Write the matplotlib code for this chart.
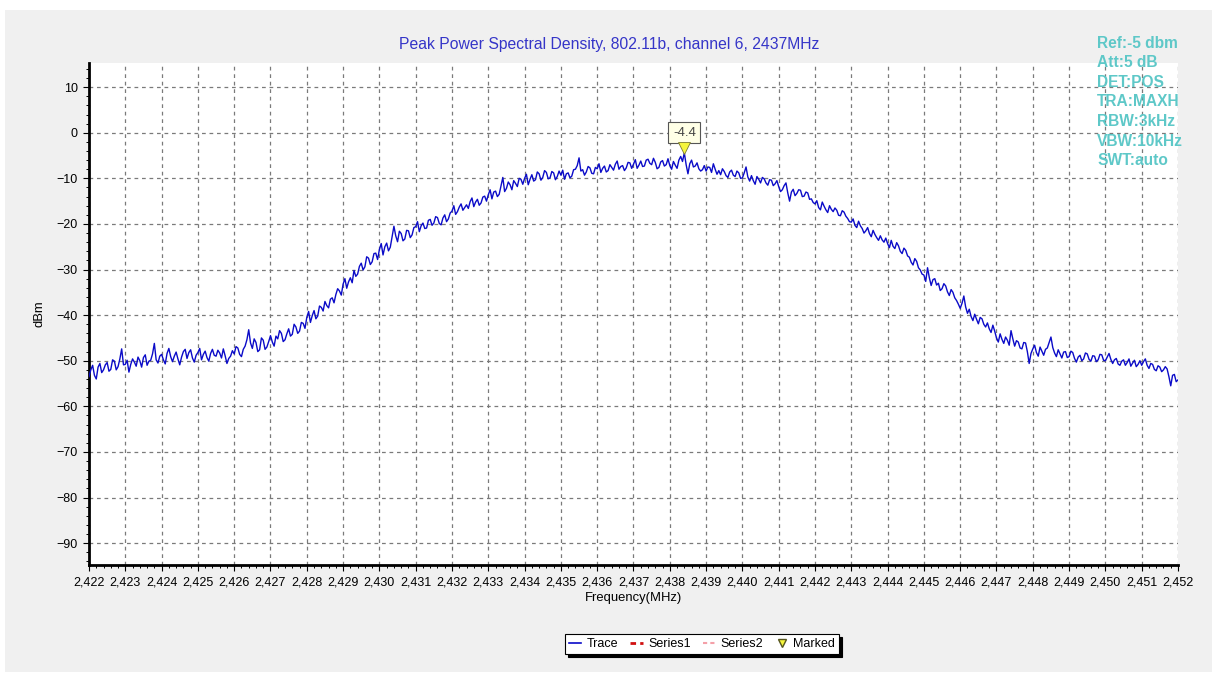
import numpy as np
import matplotlib.pyplot as plt
import matplotlib.transforms as mtransforms
from matplotlib.lines import Line2D
from matplotlib.patches import Rectangle

plt.rcParams["font.family"] = ["Liberation Sans", "DejaVu Sans"]

# trace sampled every 0.05 MHz, one row per MHz (2422.00 .. 2451.95) plus the end point
freq_start = 2422.0
freq_stop = 2452.0
power_rows = [
    [-53.5, -52.0, -51.0, -53.2, -54.0, -51.4, -50.6, -52.6, -52.0, -50.9,
     -50.4, -52.3, -51.9, -49.8, -50.1, -52.0, -51.3, -49.6, -47.4, -50.9],  # 2422
    [-50.8, -49.9, -52.5, -50.8, -49.6, -50.3, -51.2, -49.2, -50.0, -51.4,
     -49.3, -48.7, -51.0, -50.1, -49.9, -48.5, -46.2, -49.8, -50.5, -49.0],  # 2423
    [-48.6, -49.8, -50.7, -48.4, -47.3, -49.1, -50.2, -49.0, -48.1, -49.6,
     -50.9, -49.2, -48.0, -47.5, -49.5, -48.2, -47.6, -49.4, -50.3, -48.8],  # 2424
    [-48.2, -47.3, -49.8, -48.6, -47.9, -49.3, -50.1, -48.4, -47.5, -48.8,
     -49.0, -47.7, -48.3, -49.4, -47.4, -48.9, -50.6, -49.5, -49.0, -47.8],  # 2425
    [-48.5, -46.9, -47.2, -48.6, -49.1, -47.5, -46.8, -45.4, -43.2, -46.1,
     -47.3, -45.2, -46.0, -48.0, -47.6, -45.0, -45.5, -47.5, -47.0, -45.8],  # 2426
    [-44.5, -45.9, -46.8, -44.6, -45.2, -43.4, -44.0, -45.8, -45.4, -44.1,
     -43.0, -44.6, -44.2, -42.0, -42.6, -44.0, -43.5, -41.6, -41.8, -42.9],  # 2427
    [-40.5, -39.2, -41.6, -40.1, -39.0, -40.8, -40.2, -38.0, -38.3, -39.1,
     -37.0, -37.9, -38.4, -36.5, -36.2, -37.3, -35.5, -34.2, -34.7, -35.6],  # 2428
    [-33.2, -32.0, -34.1, -32.7, -31.8, -32.9, -30.2, -31.5, -31.0, -29.3,
     -28.6, -30.1, -29.4, -27.2, -27.5, -28.9, -28.3, -26.5, -26.4, -27.8],  # 2429
    [-25.6, -24.3, -26.8, -25.0, -24.2, -25.9, -25.1, -22.8, -20.5, -22.6,
     -23.9, -21.6, -22.1, -23.7, -23.3, -21.4, -21.5, -23.0, -22.4, -20.8],  # 2430
    [-20.6, -19.5, -21.7, -20.4, -19.8, -21.0, -20.9, -19.2, -19.0, -20.3,
     -19.8, -18.4, -18.6, -19.9, -20.2, -18.7, -18.0, -19.5, -18.9, -17.6],  # 2431
    [-17.2, -16.0, -17.9, -17.3, -16.3, -15.6, -17.0, -16.4, -15.8, -16.6,
     -15.1, -14.3, -16.2, -15.2, -14.6, -15.9, -15.4, -14.1, -13.9, -15.0],  # 2432
    [-13.6, -12.5, -14.5, -13.0, -12.8, -14.0, -13.5, -11.6, -9.8, -12.9,
     -12.2, -10.8, -11.4, -12.5, -10.5, -11.1, -11.8, -10.0, -10.2, -11.3],  # 2433
    [-10.0, -9.1, -11.4, -10.2, -9.2, -10.6, -10.3, -8.6, -9.0, -10.4,
     -9.8, -8.3, -8.7, -10.1, -9.9, -8.5, -8.8, -10.3, -9.6, -8.4],  # 2434
    [-9.3, -8.2, -10.2, -9.0, -8.8, -9.9, -9.5, -8.1, -8.0, -7.2,
     -5.5, -8.4, -8.1, -9.3, -8.6, -7.4, -7.7, -8.9, -9.0, -7.6],  # 2435
    [-7.9, -6.8, -8.7, -7.8, -7.3, -8.6, -8.3, -7.0, -7.6, -8.2,
     -6.9, -6.2, -8.0, -7.4, -7.2, -8.3, -7.7, -6.5, -6.6, -7.8],  # 2436
    [-6.9, -5.9, -7.8, -7.1, -6.2, -7.4, -7.3, -6.0, -5.8, -6.7,
     -7.0, -5.6, -6.5, -7.9, -7.6, -6.4, -6.1, -7.3, -7.0, -5.7],  # 2437
    [-7.2, -8.0, -6.3, -7.1, -7.8, -6.0, -5.2, -6.3, -4.4, -7.0,
     -9.0, -6.8, -6.0, -7.5, -7.3, -6.6, -7.9, -8.4, -8.1, -7.2],  # 2438
    [-8.4, -7.5, -7.6, -8.7, -6.8, -8.0, -9.1, -8.3, -9.2, -7.9,
     -8.5, -9.4, -9.8, -8.6, -8.2, -9.3, -9.6, -8.4, -8.8, -10.0],  # 2439
    [-9.9, -8.8, -7.5, -9.7, -10.6, -9.4, -10.5, -11.3, -9.6, -10.2,
     -11.0, -9.8, -10.1, -11.0, -11.5, -10.3, -10.4, -11.6, -11.2, -10.5],  # 2440
    [-11.8, -12.9, -12.5, -11.6, -11.0, -13.2, -15.0, -13.0, -12.4, -13.8,
     -13.3, -12.5, -12.6, -14.0, -13.9, -13.0, -13.2, -14.6, -14.5, -15.3],  # 2441
    [-15.6, -14.9, -16.4, -16.9, -15.2, -16.1, -16.9, -17.5, -16.0, -16.8,
     -17.3, -16.5, -17.0, -18.1, -18.2, -17.1, -17.4, -18.3, -18.8, -19.5],  # 2442
    [-19.6, -18.9, -20.3, -20.8, -19.4, -20.4, -21.0, -22.0, -21.5, -20.8,
     -22.1, -22.8, -21.4, -22.3, -23.0, -23.6, -22.6, -23.5, -24.0, -23.1],  # 2443
    [-24.3, -25.2, -23.6, -24.9, -25.4, -24.1, -24.8, -26.0, -26.5, -25.3,
     -25.8, -27.0, -27.3, -28.4, -29.0, -27.6, -28.2, -29.6, -30.1, -31.0],  # 2444
    [-31.2, -32.6, -29.6, -31.8, -33.5, -32.2, -32.0, -33.4, -33.0, -34.6,
     -34.2, -33.1, -33.6, -34.9, -35.7, -34.4, -35.0, -36.2, -36.8, -37.6],  # 2445
    [-38.5, -37.4, -35.8, -38.2, -39.6, -38.7, -40.3, -41.2, -39.8, -40.9,
     -41.9, -40.5, -40.8, -42.0, -42.6, -41.7, -43.0, -43.8, -42.2, -43.5],  # 2446
    [-45.0, -45.9, -44.1, -45.3, -46.2, -44.8, -45.5, -46.6, -43.4, -45.2,
     -46.8, -45.6, -45.9, -47.2, -47.4, -46.0, -46.1, -48.0, -50.6, -48.4],  # 2447
    [-47.4, -46.6, -48.2, -49.0, -47.0, -47.9, -48.8, -47.5, -47.2, -46.0,
     -44.8, -47.1, -48.3, -49.1, -47.6, -48.5, -49.4, -48.1, -48.0, -49.3],  # 2448
    [-49.1, -47.9, -48.2, -49.5, -50.3, -49.2, -48.8, -50.0, -49.6, -48.3,
     -48.5, -49.7, -50.1, -48.9, -49.0, -50.2, -49.8, -48.6, -48.7, -49.9],  # 2449
    [-50.0, -49.2, -48.4, -49.7, -50.6, -49.8, -49.5, -50.7, -51.0, -50.1,
     -49.8, -51.0, -50.4, -49.6, -51.2, -50.5, -49.9, -51.3, -50.8, -50.0],  # 2450
    [-51.0, -50.2, -49.6, -51.0, -51.7, -50.6, -50.8, -51.9, -52.2, -51.1,
     -51.4, -52.4, -52.0, -51.3, -51.8, -53.5, -55.5, -53.2, -53.0, -54.6],  # 2451
]
power_end = [-54.2]

x_ticks = list(range(2422, 2453))
x_tick_labels = [f"{v / 1000:.3f}".replace(".", ",") for v in x_ticks]
y_ticks = [10, 0, -10, -20, -30, -40, -50, -60, -70, -80, -90]

title = "Peak Power Spectral Density, 802.11b, channel 6, 2437MHz"
info_lines = ["Ref:-5 dbm", "Att:5 dB", "DET:POS", "TRA:MAXH", "RBW:3kHz", "VBW:10kHz", "SWT:auto"]

power = np.array([v for row in power_rows for v in row] + power_end)
freq = np.linspace(freq_start, freq_stop, len(power))

W, H = 1212, 677
fig = plt.figure(figsize=(W / 100, H / 100), dpi=100, facecolor="white")
fig.patches.append(Rectangle((5 / W, 5 / H), 1 - 5 / W, 1 - 15 / H,
                             transform=fig.transFigure, facecolor="#f0f0f0",
                             edgecolor="none", zorder=-10))

ax = fig.add_axes([89 / W, 1 - 565 / H, (1178 - 89) / W, (565 - 63) / H])
ax.set_facecolor("white")

trace_color = "#0b0bc8"
ax.plot(freq, power, color=trace_color, lw=1.0, zorder=3)

# marker on the maximum
i_pk = int(np.argmax(power))
up = mtransforms.offset_copy(ax.transData, fig=fig, x=0, y=5, units="dots")
ax.plot(freq[i_pk], power[i_pk], marker="v", ms=8, color="#f5f53c",
        mec="#7a7a30", mew=0.6, transform=up, zorder=5, clip_on=False)
ax.annotate(f"{power[i_pk]:.1f}", (freq[i_pk], power[i_pk]), xytext=(0, 20),
            textcoords="offset pixels", ha="center", va="center", fontsize=9.5,
            color="#444444",
            bbox=dict(boxstyle="square,pad=0.35", fc="#ffffe6", ec="#555555", lw=0.8))

ax.set_xlim(freq_start, freq_stop)
ax.set_ylim(-94.8, 15.3)
ax.set_xticks(x_ticks)
ax.set_xticklabels(x_tick_labels)
ax.set_yticks(y_ticks)
ax.set_xticks(np.linspace(freq_start, freq_stop, 151), minor=True)
ax.set_yticks(np.arange(-94, 15, 2), minor=True)
ax.tick_params(axis="both", which="major", direction="out", length=4, width=0.8,
               labelsize=9, colors="black", pad=4)
ax.tick_params(axis="both", which="minor", direction="out", length=2.5, width=0.7)

ax.grid(True, which="major", color="#7a7a7a", ls=(0, (3, 3)), lw=0.9)
for side in ("top", "right"):
    ax.spines[side].set_visible(False)
for side in ("left", "bottom"):
    ax.spines[side].set_linewidth(2)
    ax.spines[side].set_color("black")

ax.set_xlabel("Frequency(MHz)", fontsize=9.4, labelpad=3)
ax.set_ylabel("dBm", fontsize=9.4, labelpad=8)

fig.text(609 / W, 1 - 45 / H, title, ha="center", va="center", fontsize=11.3,
         color="#3535c8")
for k, line in enumerate(info_lines):
    fig.text(1097 / W, 1 - (43 + 19.6 * k) / H, line, ha="left", va="center",
             fontsize=11.2, color="#5ec8c8", fontweight="bold")

handles = [
    Line2D([], [], color=trace_color, lw=1.2),
    Line2D([], [], color="#d01010", lw=2, ls=(0, (2, 1.5))),
    Line2D([], [], color="#f4a0a8", lw=1.5, ls=(0, (2, 1.5))),
    Line2D([], [], color="#f5f53c", marker="v", ls="none", ms=6, mec="#555520"),
]
leg = fig.legend(handles, ["Trace", "Series1", "Series2", "Marked"], loc="center",
                 bbox_to_anchor=(702 / W, 1 - 644 / H), ncol=4, fontsize=9,
                 frameon=True, fancybox=False, edgecolor="black", handlelength=1.0,
                 handletextpad=0.4, columnspacing=1.0, borderpad=0.3,
                 shadow={"color": "black", "alpha": 1.0})
leg.get_frame().set_linewidth(0.8)

fig.savefig("out.png", dpi=100, facecolor=fig.get_facecolor())
